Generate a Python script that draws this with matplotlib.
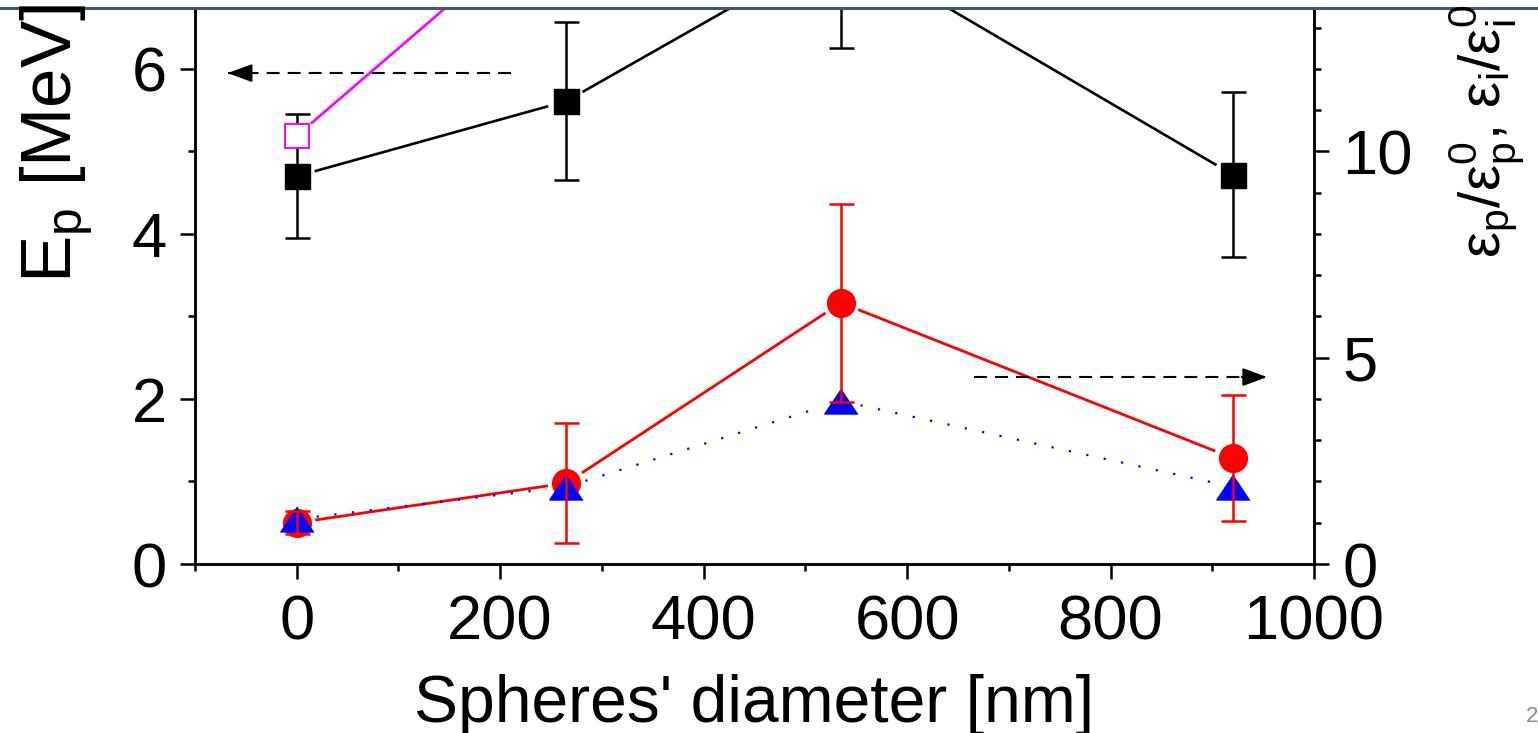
import matplotlib
matplotlib.use('Agg')
import matplotlib.pyplot as plt
import numpy as np
from matplotlib.lines import Line2D
from matplotlib.ticker import MultipleLocator

plt.rcParams['font.family'] = ['Liberation Sans', 'DejaVu Sans']
plt.rcParams['mathtext.fontset'] = 'custom'
plt.rcParams['mathtext.rm'] = 'Liberation Sans'

# --- data ---
diam = [0, 265, 535, 920]                 # spheres' diameter [nm]
ep = [4.70, 5.61, 7.50, 4.72]             # proton energy [MeV], left axis
ep_err = [0.75, 0.96, 1.25, 1.00]
ep_open_x = [0, 265]                      # open magenta squares
ep_open = [5.19, 8.00]
eps_p = [1.00, 1.96, 6.33, 2.57]          # eps_p/eps_p^0, right axis
eps_p_err = [0.28, 1.46, 2.40, 1.52]
eps_i = [1.09, 1.87, 3.95, 1.87]          # eps_i/eps_i^0, right axis

W, H = 1538, 733
GAP = 20  # px gap between connecting lines and markers (Origin style)


def gapped_line(ax, xs, ys, gap, **kw):
    """Connect points with segments that stop short of the markers"""
    pts = ax.transData.transform(np.column_stack([xs, ys]))
    inv = ax.transData.inverted()
    for p0, p1 in zip(pts[:-1], pts[1:]):
        d = p1 - p0
        u = d / np.hypot(*d)
        seg = inv.transform([p0 + u * gap, p1 - u * gap])
        ax.plot(seg[:, 0], seg[:, 1], **kw)


def arrow(ax, x0, x1, y, head):
    ax.plot([x0, x1], [y, y], color='black', lw=1.5, linestyle=(0, (6.2, 3.9)))
    ax.annotate('', xy=(x1, y), xytext=(x1 - head, y),
                arrowprops=dict(arrowstyle='-|>,head_length=1.5,head_width=0.55',
                                color='black', lw=1.5, shrinkA=0, shrinkB=0))


fig = plt.figure(figsize=(W / 100, H / 100), dpi=100)
ax = fig.add_axes([195 / W, (H - 564) / H, (1314 - 195) / W, 555 / H])
ax2 = ax.twinx()

ax.set_xlim(-100, 1000)
ax.set_ylim(0, 6.727)
ax2.set_ylim(0, 13.45)

# left axis: E_p
ax.errorbar(diam, ep, yerr=ep_err, fmt='none', ecolor='black',
            elinewidth=1.8, capsize=9, capthick=1.8, zorder=2)
gapped_line(ax, diam, ep, GAP, color='black', lw=1.9, zorder=2)
ax.plot(diam, ep, 's', color='black', markersize=18, zorder=3)
gapped_line(ax, ep_open_x, ep_open, GAP, color='magenta', lw=1.9, zorder=2)
ax.plot(ep_open_x, ep_open, 's', markerfacecolor='white', markeredgecolor='magenta',
        markeredgewidth=1.4, markersize=17, zorder=3)
arrow(ax, 211, -68, 5.95, -25)

# right axis: normalized emittances
gapped_line(ax2, diam, eps_p, GAP, color='red', lw=2.0, zorder=2)
gapped_line(ax2, diam, eps_i, GAP, color='blue', lw=1.6, linestyle=(0, (1, 7)), zorder=2)
ax2.plot(diam, eps_p, 'o', color='red', markersize=20, zorder=3)
tri = [(0, 0.75), (-1, -0.75), (1, -0.75)]
ax2.plot(diam, eps_i, marker=tri, linestyle='none', color='blue', markersize=24, zorder=4)
ax2.errorbar(diam, eps_p, yerr=eps_p_err, fmt='none', ecolor='red',
             elinewidth=1.8, capsize=9, capthick=1.8, zorder=5)
arrow(ax2, 666, 954, 4.53, 25)

# axes styling
for a in (ax, ax2):
    for s in a.spines.values():
        s.set_linewidth(1.8)
    a.spines['top'].set_visible(False)
    a.tick_params(which='major', direction='out', length=10.5, width=1.8, labelsize=45.5)
    a.tick_params(which='minor', direction='out', length=5, width=1.8)

ax.xaxis.set_major_locator(MultipleLocator(200))
ax.xaxis.set_minor_locator(MultipleLocator(100))
ax.yaxis.set_major_locator(MultipleLocator(2))
ax.yaxis.set_minor_locator(MultipleLocator(1))
ax2.yaxis.set_major_locator(MultipleLocator(5))
ax2.yaxis.set_minor_locator(MultipleLocator(1))
ax.tick_params(axis='x', pad=11)
ax.tick_params(axis='y', pad=10)
ax2.tick_params(axis='y', pad=10)

ax.set_xlabel("Spheres' diameter [nm]", fontsize=47.5, labelpad=15)
fig.text(57 / W, (H - 283) / H, r'E$_\mathregular{p}$ [MeV]', rotation=90,
         fontsize=51, ha='center', va='bottom')
fig.text(1487 / W, (H - 258) / H,
         r'ε$_\mathregular{p}$/ε$_\mathregular{p}^\mathregular{0}$, '
         r'ε$_\mathregular{i}$/ε$_\mathregular{i}^\mathregular{0}$',
         rotation=90, fontsize=42, ha='center', va='bottom')

# slide decoration: header rule and page number
fig.add_artist(Line2D([0, 1], [1 - 8 / H, 1 - 8 / H], transform=fig.transFigure,
                      color='#3a5780', lw=2.2))
fig.text(1526 / W, (H - 722) / H, '2', color='#8c8c8c', fontsize=16,
         ha='left', va='baseline')

fig.savefig('out.png', dpi=100)
